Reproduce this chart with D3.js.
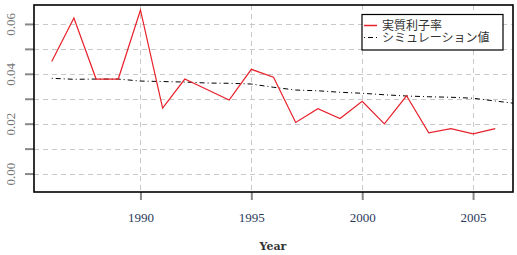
<!DOCTYPE html>
<html>
<head>
<meta charset="utf-8">
<script src="https://cdn.jsdelivr.net/npm/d3@7"></script>
<style>
  body { margin: 0; background: #fff; }
  svg { display: block; }
</style>
</head>
<body>
<svg id="chart" width="517" height="255"></svg>
<script>
// data
var years = [1986,1987,1988,1989,1990,1991,1992,1993,1994,1995,1996,1997,1998,1999,2000,2001,2002,2003,2004,2005,2006];
var realRate = [0.0449,0.0624,0.0379,0.0379,0.0656,0.0262,0.0379,0.0337,0.0295,0.0418,0.0386,0.0205,0.0260,0.0221,0.0290,0.0199,0.0312,0.0163,0.0180,0.0159,0.0180];
var simYears = [1986,1987,1988,1989,1990,1991,1992,1993,1994,1995,1996,1997,1998,1999,2000,2001,2002,2003,2004,2005,2006,2007];
var simValue = [0.0382,0.0378,0.0379,0.0379,0.0371,0.0369,0.0367,0.0363,0.0362,0.0359,0.0346,0.0335,0.0332,0.0326,0.0322,0.0316,0.0311,0.0308,0.0306,0.0302,0.0291,0.0280];
var xTicks = [1990,1995,2000,2005];
var yTicks = [0.00,0.01,0.02,0.03,0.04,0.05,0.06];
var yLabels = [0.00,0.02,0.04,0.06];
var legendLabels = ["実質利子率","シミュレーション値"];

var svg = d3.select("#chart");
var pLeft = 34, pRight = 513, pTop = 5, pBottom = 192;

var x = d3.scaleLinear().domain([1985.2, 2006.8]).range([pLeft, pRight]);
var y = d3.scaleLinear().domain([-0.0074, 0.0676]).range([pBottom, pTop]);

svg.append("defs").append("clipPath").attr("id","clip")
  .append("rect").attr("x", pLeft).attr("y", pTop).attr("width", pRight-pLeft).attr("height", pBottom-pTop);

// grid
var grid = svg.append("g").attr("stroke", "#c8c8c8").attr("stroke-dasharray", "5,4").attr("stroke-width", 1);
grid.selectAll("line.h").data(yTicks).enter().append("line")
  .attr("x1", pLeft).attr("x2", pRight)
  .attr("y1", function(d){ return Math.round(y(d)) + 0.5; })
  .attr("y2", function(d){ return Math.round(y(d)) + 0.5; });
grid.selectAll("line.v").data(xTicks).enter().append("line")
  .attr("y1", pTop).attr("y2", pBottom)
  .attr("x1", function(d){ return Math.round(x(d)) + 0.5; })
  .attr("x2", function(d){ return Math.round(x(d)) + 0.5; });

// axes
var xAxis = svg.append("g").attr("transform", "translate(0," + pBottom + ")")
  .call(d3.axisBottom(x).tickValues(xTicks).tickFormat(d3.format("d")).tickSize(8).tickSizeOuter(0));
xAxis.select(".domain").remove();
xAxis.selectAll("line").attr("stroke", "#888").attr("stroke-width", 2);
xAxis.selectAll("text").attr("dy", "0.35em").attr("y", 25)
  .attr("font-family", "Liberation Serif").attr("font-size", 13).attr("fill", "#2a3a5a");

var yAxis = svg.append("g").attr("transform", "translate(" + pLeft + ",0)")
  .call(d3.axisLeft(y).tickValues(yTicks)
    .tickFormat(function(d){ return yLabels.indexOf(d) >= 0 ? d3.format(".2f")(d) : ""; })
    .tickSize(9).tickSizeOuter(0));
yAxis.select(".domain").remove();
yAxis.selectAll("line").attr("stroke", "#888").attr("stroke-width", 2);
yAxis.selectAll(".tick text")
  .attr("font-family", "Liberation Serif").attr("font-size", 13).attr("fill", "#777")
  .attr("text-anchor", "middle").attr("x", 0).attr("y", 0).attr("dy", "0.35em")
  .attr("transform", "translate(-24,0) rotate(-90)");

// lines
var plot = svg.append("g").attr("clip-path", "url(#clip)");
var line = d3.line().x(function(d){ return x(d[0]); }).y(function(d){ return y(d[1]); });
plot.append("path")
  .datum(d3.zip(simYears, simValue))
  .attr("d", line).attr("fill", "none").attr("stroke", "#000").attr("stroke-width", 1)
  .attr("stroke-dasharray", "1,3,5,3");
plot.append("path")
  .datum(d3.zip(years, realRate))
  .attr("d", line).attr("fill", "none").attr("stroke", "#e8202a").attr("stroke-width", 1.2);

// frame
svg.append("rect").attr("x", pLeft).attr("y", pTop).attr("width", pRight-pLeft).attr("height", pBottom-pTop)
  .attr("fill", "none").attr("stroke", "#000").attr("stroke-width", 1.6);

// legend
var lg = svg.append("g");
lg.append("rect").attr("x", 362).attr("y", 14.5).attr("width", 141).attr("height", 35.5)
  .attr("fill", "#fff").attr("stroke", "#000").attr("stroke-width", 1.2);
lg.append("line").attr("x1", 364).attr("x2", 377).attr("y1", 25.5).attr("y2", 25.5)
  .attr("stroke", "#e8202a").attr("stroke-width", 1.5);
lg.append("line").attr("x1", 364).attr("x2", 377).attr("y1", 37.5).attr("y2", 37.5)
  .attr("stroke", "#000").attr("stroke-width", 1).attr("stroke-dasharray", "1,3,5,3");
lg.selectAll("text").data(legendLabels).enter().append("text")
  .attr("x", 382).attr("y", function(d, i){ return 29.5 + i * 12.5; })
  .attr("font-family", "Noto Sans CJK JP").attr("font-size", 12).attr("fill", "#333")
  .text(function(d){ return d; });

// x title
svg.append("text").attr("x", 273).attr("y", 250).attr("text-anchor", "middle")
  .attr("font-family", "DejaVu Serif").attr("font-weight", "bold").attr("font-size", 11).attr("fill", "#333")
  .text("Year");
</script>
</body>
</html>
